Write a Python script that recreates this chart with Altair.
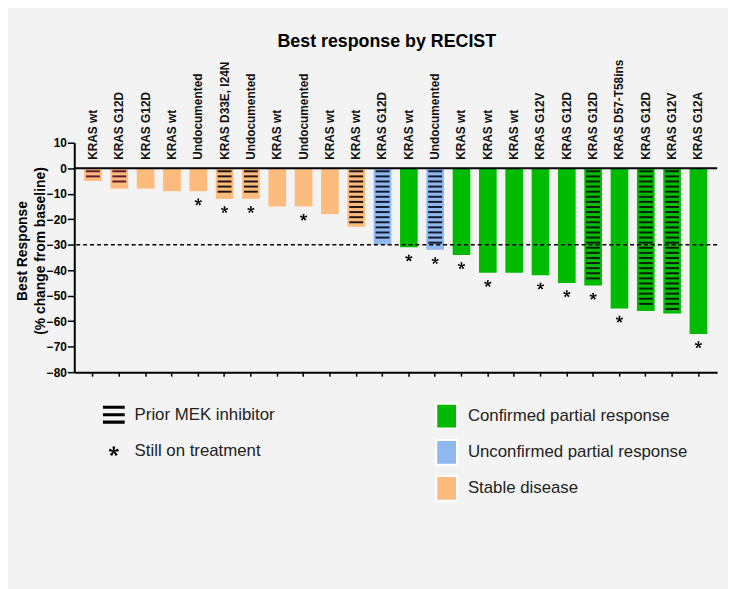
import math
import altair as alt
import pandas as pd

# ---------------- data ----------------
labels = ["KRAS wt", "KRAS G12D", "KRAS G12D", "KRAS wt", "Undocumented",
          "KRAS D33E, I24N", "Undocumented", "KRAS wt", "Undocumented", "KRAS wt",
          "KRAS wt", "KRAS G12D", "KRAS wt", "Undocumented", "KRAS wt", "KRAS wt",
          "KRAS wt", "KRAS G12V", "KRAS G12D", "KRAS G12D", "KRAS D57-T58ins",
          "KRAS G12D", "KRAS G12V", "KRAS G12A"]
values = [-5, -8, -8, -9, -9, -12, -12, -15, -15, -18, -23, -30,
          -31, -32, -34, -41, -41, -42, -45, -46, -55, -56, -57, -65]
SD = "Stable disease"
UPR = "Unconfirmed partial response"
CPR = "Confirmed partial response"
responses = [SD] * 11 + [UPR, CPR, UPR] + [CPR] * 10
prior_mek = [1, 1, 0, 0, 0, 1, 1, 0, 0, 0, 1, 1, 0, 1, 0, 0, 0, 0, 0, 1, 0, 1, 1, 0]
on_treatment = [0, 0, 0, 0, 1, 1, 1, 0, 1, 0, 0, 0, 1, 1, 1, 1, 0, 1, 1, 1, 1, 0, 0, 1]
y_ticks = [10, 0, -10, -20, -30, -40, -50, -60, -70, -80]
legend_keys = ["Prior MEK inhibitor", "Still on treatment"]
response_order = [CPR, UPR, SD]

# ---------------- styles ----------------
FONT = "Liberation Sans"
BG = "#f2f3f2"
GREEN, BLUE, ORANGE = "#00bb00", "#8fb8ef", "#fdbb7d"
HATCH_COLOR = {SD: "#1e1410", UPR: "#141a2c", CPR: "#0a1e0a"}
MAROON = "#5c1a33"
MAROON_BARS = {0, 1}
HATCH_START, HATCH_STEP, HATCH_END_GAP = -1.2, 2.0, 1.5


def asterisk_path(r=0.45, w0=0.04, w1=0.13, arms=5):
    parts = []
    for k in range(arms):
        t = math.radians(-90 + 360 / arms * k)
        dx, dy = math.cos(t), math.sin(t)
        nx, ny = -dy, dx
        b = -0.06
        pts = [(b * dx + w0 * nx, b * dy + w0 * ny),
               (r * dx + w1 * nx, r * dy + w1 * ny),
               (r * dx - w1 * nx, r * dy - w1 * ny),
               (b * dx - w0 * nx, b * dy - w0 * ny)]
        parts.append("M" + "L".join(f"{x:.3f},{y:.3f}" for x, y in pts) + "Z")
    return "".join(parts)


AST_PATH = asterisk_path()
HATCH_PATH = ("M-1,-0.82L1,-0.82L1,-0.54L-1,-0.54Z"
              "M-1,-0.14L1,-0.14L1,0.14L-1,0.14Z"
              "M-1,0.54L1,0.54L1,0.82L-1,0.82Z")
RECT_PATH = "M-0.84,-1L0.84,-1L0.84,1L-0.84,1Z"

# ---------------- tables ----------------
df = pd.DataFrame({"id": list(range(len(labels))), "label": labels,
                   "value": values, "response": responses})

hatch_rows = []
for i, (v, m, r) in enumerate(zip(values, prior_mek, responses)):
    if not m:
        continue
    yv = HATCH_START
    while yv >= v + HATCH_END_GAP:
        hatch_rows.append({"id": i, "value": yv,
                           "c": MAROON if i in MAROON_BARS else HATCH_COLOR[r]})
        yv -= HATCH_STEP
hatch_df = pd.DataFrame(hatch_rows)

stars_df = pd.DataFrame({"id": [i for i, s in enumerate(on_treatment) if s],
                         "value": [values[i] for i, s in enumerate(on_treatment) if s],
                         "key": "Still on treatment"})
one = pd.DataFrame({"k": [0]})

# ---------------- scales & axes (shared by every layer) ----------------
x_scale = alt.Scale(domain=list(range(len(labels))), paddingInner=0.33, paddingOuter=0.375)
x_axis = alt.Axis(title=None, labels=False, ticks=True, tickSize=4, tickWidth=1.5,
                  tickColor="black", domainColor="black", domainWidth=2)
y_scale = alt.Scale(domain=[-80, 10], nice=False, zero=False)
y_axis = alt.Axis(values=y_ticks, tickCount=10, grid=False, labelOverlap=False,
                  title=["Best  Response", "(% change from baseline)"],
                  titleFont=FONT, titleFontSize=14, titleFontWeight="bold",
                  titleColor="black", titleLineHeight=17.5,
                  titleX=-52, titleY=109, titleAngle=270,
                  titleBaseline="middle", titleAlign="center",
                  labelFont=FONT, labelFontSize=12, labelFontWeight="bold",
                  labelColor="black", labelPadding=1,
                  tickSize=7, tickWidth=1.5, tickColor="black",
                  domainColor="black", domainWidth=2)

X = alt.X("id:O", scale=x_scale, axis=x_axis)
Y = alt.Y("value:Q", scale=y_scale, axis=y_axis, stack=None)

bars = alt.Chart(df).mark_bar(opacity=1).encode(
    x=X, y=Y,
    color=alt.Color("response:N",
                    scale=alt.Scale(domain=response_order, range=[GREEN, BLUE, ORANGE]),
                    legend=alt.Legend(title=None, orient="none", legendX=363, legendY=263,
                                      symbolType=RECT_PATH, symbolSize=625,
                                      symbolStrokeColor="white", symbolStrokeWidth=2,
                                      symbolOpacity=1,
                                      labelFont=FONT, labelFontSize=17, labelColor="#222",
                                      labelOffset=8, rowPadding=3.5, labelLimit=400)))

hatch = alt.Chart(hatch_df).mark_tick(size=14, thickness=2, opacity=1).encode(
    x=X, y=Y, color=alt.Color("c:N", scale=None))

dash = alt.Chart(one).mark_rule(color="black", strokeWidth=1.5, strokeDash=[4, 3]).encode(
    y=alt.YDatum(-30, scale=y_scale, axis=y_axis))
zero = alt.Chart(one).mark_rule(color="black", strokeWidth=2).encode(
    y=alt.YDatum(0, scale=y_scale, axis=y_axis))

text = alt.Chart(df).mark_text(angle=270, align="left", baseline="middle", dx=8.5,
                               font=FONT, fontSize=12, fontWeight="bold", color="#111").encode(
    x=X, y=alt.YDatum(0, scale=y_scale, axis=y_axis), text="label:N")

stars = alt.Chart(stars_df).mark_point(filled=True, size=243, color="black", opacity=1,
                                       yOffset=11).encode(
    x=X, y=Y,
    shape=alt.Shape("key:N",
                    scale=alt.Scale(domain=legend_keys, range=[HATCH_PATH, AST_PATH]),
                    legend=alt.Legend(title=None, orient="none", legendX=29, legendY=264,
                                      symbolSize=484, symbolFillColor="black",
                                      symbolStrokeWidth=0, symbolOpacity=1,
                                      labelFont=FONT, labelFontSize=17, labelColor="#222",
                                      labelOffset=10, rowPadding=16, labelLimit=400)))

chart = alt.layer(bars, hatch, dash, zero, text, stars).properties(
    width=650, height=232,
    padding={"left": 67, "top": 133, "right": 11, "bottom": 216},
    autosize=alt.AutoSizeParams(type="none"),
    background=BG,
    title=alt.Title("Best response by RECIST", font=FONT, fontSize=18, fontWeight="bold",
                    color="black", anchor="middle", frame="group", dx=-9, offset=9),
).configure_view(strokeWidth=0)

chart.save("out.html", embed_options={"renderer": "svg", "actions": False})
